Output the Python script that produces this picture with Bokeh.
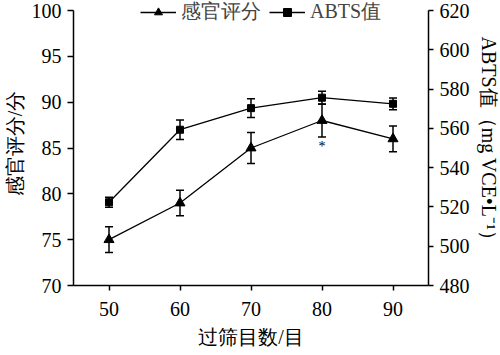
from bokeh.plotting import figure
from bokeh.models import (Range1d, LinearAxis, FixedTicker, Whisker, ColumnDataSource,
                          Legend, LegendItem, TeeHead)
from bokeh.core.properties import value
from bokeh.embed import file_html
from bokeh.resources import INLINE

mesh = [50, 60, 70, 80, 90]
sensory = [75, 79, 85, 88, 86]
sensory_err = [1.4, 1.4, 1.7, 1.8, 1.4]
abts = [522.4, 559.3, 570.3, 575.6, 572.5]
abts_err = [2.5, 5.0, 4.8, 3.3, 3.0]
sig_x = [80]
sig_y = [85.2]
sig_text = ["*"]

x_ticks = [50, 60, 70, 80, 90]
left_ticks = [70, 75, 80, 85, 90, 95, 100]
right_ticks = [480, 500, 520, 540, 560, 580, 600, 620]

x_title = "过筛目数/目"
left_title = "感官评分/分"
right_title = "ABTS值（mg VCE•L⁻¹）"
series_names = ["感官评分", "ABTS值"]

FONT = "Liberation Serif"

# frame spans 9 px above the top tick so the legend can sit level with it
TOP_PAD = 9 / (275 / 30)
TOP_PAD_R = 9 / (275 / 140)

src_s = ColumnDataSource(dict(
    x=mesh, y=sensory,
    lo=[v - e for v, e in zip(sensory, sensory_err)],
    hi=[v + e for v, e in zip(sensory, sensory_err)]))
src_a = ColumnDataSource(dict(
    x=mesh, y=abts,
    lo=[v - e for v, e in zip(abts, abts_err)],
    hi=[v + e for v, e in zip(abts, abts_err)]))

p = figure(frame_width=355, frame_height=284, output_backend="svg", toolbar_location=None,
           x_range=Range1d(45, 95), y_range=Range1d(70, 100 + TOP_PAD),
           min_border_left=69, min_border_right=76, min_border_top=1, min_border_bottom=70)
p.extra_y_ranges = {"abts": Range1d(480, 620 + TOP_PAD_R)}
p.xgrid.visible = False
p.ygrid.visible = False
p.outline_line_color = None
p.background_fill_color = "white"

def style_axis(ax):
    ax.axis_line_width = 1.5
    ax.axis_line_color = "black"
    ax.major_tick_line_color = "black"
    ax.major_tick_line_width = 1.5
    ax.major_tick_out = 5
    ax.major_tick_in = 0
    ax.minor_tick_line_color = None
    ax.major_label_text_font = FONT
    ax.major_label_text_font_size = "20px"
    ax.major_label_text_color = "black"
    ax.axis_label_text_font = FONT
    ax.axis_label_text_font_size = "20px"
    ax.axis_label_text_font_style = "normal"
    ax.axis_label_text_color = "black"

p.xaxis.ticker = FixedTicker(ticks=x_ticks)
p.xaxis.axis_label = x_title
style_axis(p.xaxis[0])
p.xaxis.major_label_standoff = 11
p.xaxis.axis_label_standoff = 7

p.yaxis.ticker = FixedTicker(ticks=left_ticks)
p.yaxis.axis_label = left_title
p.yaxis.bounds = (70, 100)
style_axis(p.yaxis[0])
p.yaxis.major_tick_out = 6
p.yaxis.major_label_standoff = 6
p.yaxis.axis_label_standoff = 3

rax = LinearAxis(y_range_name="abts", ticker=FixedTicker(ticks=right_ticks),
                 bounds=(480, 620), axis_label=right_title)
style_axis(rax)
rax.major_label_standoff = 6
rax.axis_label_standoff = 5
p.add_layout(rax, "right")

# error bars
ws = Whisker(source=src_s, base="x", lower="lo", upper="hi", line_color="black", line_width=1.5,
             upper_head=TeeHead(size=8, line_width=1.5), lower_head=TeeHead(size=8, line_width=1.5))
wa = Whisker(source=src_a, base="x", lower="lo", upper="hi", line_color="black", line_width=1.5,
             y_range_name="abts",
             upper_head=TeeHead(size=8, line_width=1.5), lower_head=TeeHead(size=8, line_width=1.5))
p.add_layout(ws)
p.add_layout(wa)

l1 = p.line("x", "y", source=src_s, line_color="black", line_width=1.3)
m1 = p.scatter("x", "y", source=src_s, marker="triangle", size=10, fill_color="black", line_color="black")
l2 = p.line("x", "y", source=src_a, line_color="black", line_width=1.3, y_range_name="abts")
m2 = p.scatter("x", "y", source=src_a, marker="square", size=7, fill_color="black", line_color="black",
               y_range_name="abts")

p.text(x=sig_x, y=sig_y, text=sig_text, text_font=value("Liberation Serif"), text_font_size="14px",
       text_align="center", text_baseline="middle", text_color="black")

legend = Legend(items=[LegendItem(label=series_names[0], renderers=[l1, m1]),
                       LegendItem(label=series_names[1], renderers=[l2, m2])],
                orientation="horizontal", location=(67, 260),
                glyph_width=36, glyph_height=20, label_standoff=5, spacing=8,
                label_height=20, padding=0, margin=0, border_line_color=None,
                background_fill_alpha=0,
                label_text_font=FONT, label_text_font_size="20px")
p.add_layout(legend, "center")

open("out.html", "w").write(file_html(p, INLINE))
